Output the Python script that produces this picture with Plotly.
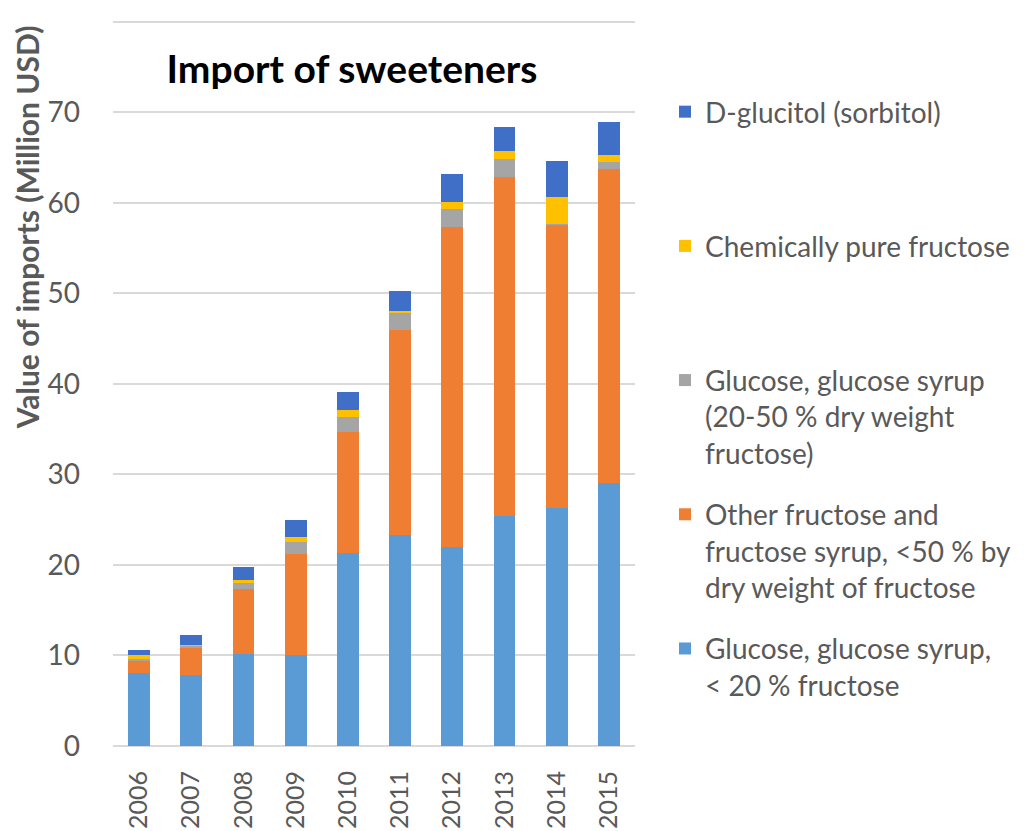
import plotly.graph_objects as go

years = ["2006", "2007", "2008", "2009", "2010", "2011", "2012", "2013", "2014", "2015"]

glucose_lt20 = [8.1, 7.8, 10.2, 10.0, 21.3, 23.3, 22.0, 25.4, 26.3, 29.0]
other_fructose = [1.35, 3.1, 7.1, 11.2, 13.4, 22.7, 35.35, 37.45, 31.35, 34.7]
glucose_20_50 = [0.2, 0.15, 0.8, 1.37, 1.65, 1.9, 1.95, 1.95, 0.05, 0.85]
pure_fructose = [0.35, 0.1, 0.2, 0.53, 0.75, 0.2, 0.8, 0.9, 2.95, 0.75]
sorbitol = [0.6, 1.1, 1.5, 1.87, 2.0, 2.2, 3.1, 2.7, 4.0, 3.65]

names = [
    "Glucose, glucose syrup,<br>< 20 % fructose<br> ",
    "Other fructose and<br>fructose syrup, <50 % by<br>dry weight of fructose",
    "Glucose, glucose syrup<br>(20-50 % dry weight<br>fructose)",
    "Chemically pure fructose<br> <br> ",
    "D-glucitol (sorbitol)<br> <br> ",
]
series = [glucose_lt20, other_fructose, glucose_20_50, pure_fructose, sorbitol]
colors = ["#5B9BD5", "#F07E32", "#A5A5A5", "#FFC000", "#3F6FC6"]

fig = go.Figure()
n = len(series)
for i, (nm, vals, c) in enumerate(zip(names, series, colors)):
    fig.add_trace(go.Bar(
        x=years, y=vals, name=nm, marker=dict(color=c, line=dict(width=0)),
        legendgroup=f"g{i}", legendrank=1000 + (n - i),
    ))

font_family = "Lato, 'Open Sans', sans-serif"
W, H = 1020, 823
L, T, B = 105, 11, 85
PW = 522
fig.update_layout(
    barmode="stack",
    bargap=0.58,
    width=W, height=H,
    margin=dict(l=L, r=W - L - PW, t=T, b=B),
    plot_bgcolor="white", paper_bgcolor="white",
    font=dict(family=font_family, color="#595959", size=28),
    title=dict(
        text="<b>Import of sweeteners</b>",
        font=dict(size=39, color="black", family=font_family),
        x=(344 - L) / PW, xanchor="center", xref="paper",
        y=1 - 61 / H, yanchor="middle", yref="container",
        automargin=False,
    ),
    legend=dict(
        traceorder="grouped",
        x=1.0575, xanchor="left",
        y=0.9065, yanchor="top",
        valign="top",
        tracegroupgap=22,
        font=dict(size=28, color="#595959", family=font_family),
        bgcolor="rgba(0,0,0,0)",
    ),
    xaxis=dict(
        tickangle=-90,
        showgrid=False,
        showline=False,
        ticks="",
        ticklabelstandoff=19,
        automargin=False,
        tickfont=dict(size=25, color="#595959"),
    ),
    yaxis=dict(
        range=[0, 80.3],
        dtick=10,
        showgrid=True,
        gridcolor="#D9D9D9",
        gridwidth=2,
        zeroline=True,
        zerolinecolor="#D9D9D9",
        zerolinewidth=2,
        ticks="",
        ticklabelstandoff=32,
        automargin=False,
        tickfont=dict(size=28, color="#595959"),
    ),
    annotations=[dict(
        text="<b>Value of imports (Million USD)</b>",
        textangle=-90,
        xref="paper", yref="paper",
        x=(19 - L) / PW, xanchor="center",
        y=1 - (230 - 8 - T - 2.7) / 727, yanchor="middle",
        showarrow=False,
        font=dict(size=30, color="#595959", family=font_family),
    )],
)

fig.write_html("out.html")
